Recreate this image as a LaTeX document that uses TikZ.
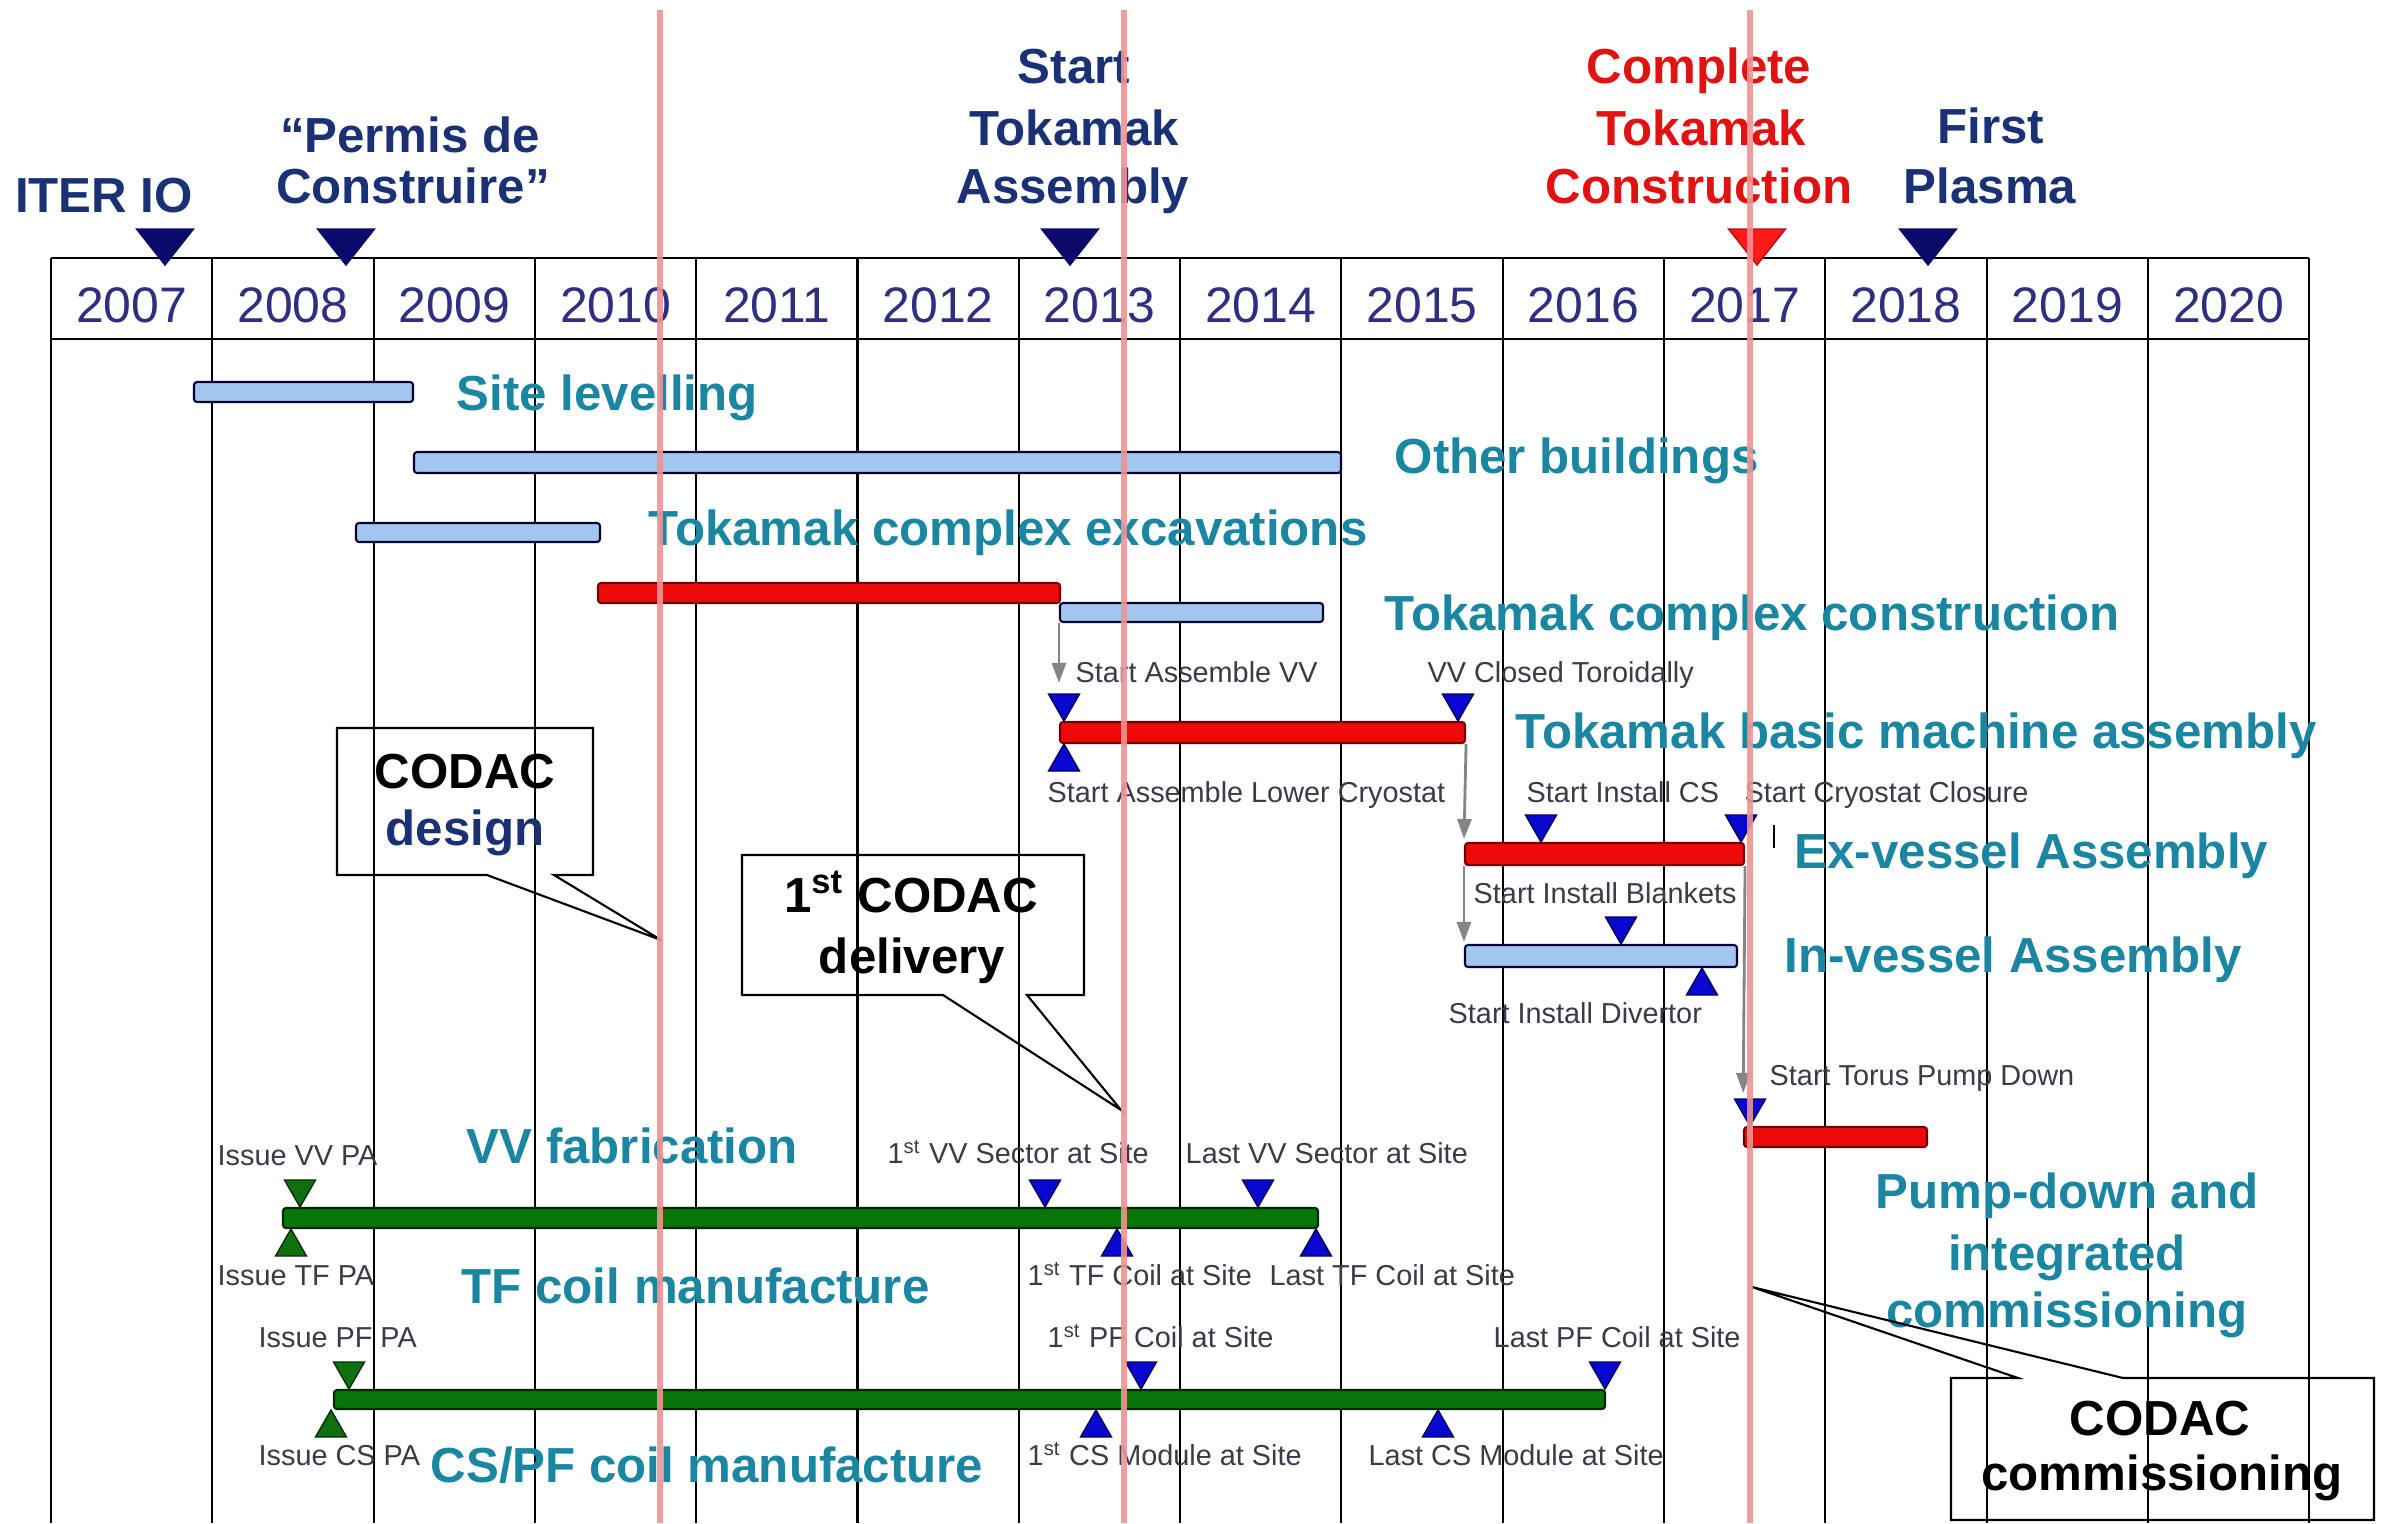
\documentclass[tikz,border=0pt]{standalone}
\usepackage{fontspec}
\setmainfont{Liberation Sans}
\usetikzlibrary{arrows.meta,fit}

\definecolor{hdrnavy}{HTML}{1A3275}
\definecolor{yearblue}{HTML}{302E80}
\definecolor{phaseteal}{HTML}{1A86A2}
\definecolor{hdrred}{HTML}{E01212}
\definecolor{notegray}{HTML}{3A3A48}
\definecolor{barblue}{HTML}{A3C6EE}
\definecolor{barred}{HTML}{EE0A0A}
\definecolor{bargreen}{HTML}{087508}
\definecolor{msblue}{HTML}{0808D0}
\definecolor{msgreen}{HTML}{107010}
\definecolor{msnavy}{HTML}{0A0A6A}
\definecolor{msred}{HTML}{FF1A1A}
\definecolor{linkgray}{HTML}{858585}
\definecolor{todayline}{HTML}{EE9494}

\tikzset{
  gridline/.style={draw=black, line width=0.6pt},
  hdr/.style={anchor=base, inner sep=0pt, font=\fontsize{14}{17}\selectfont\bfseries, text=hdrnavy},
  hdrr/.style={hdr, text=hdrred},
  yr/.style={anchor=base, inner sep=0pt, font=\fontsize{14.2}{17}\selectfont, text=yearblue},
  phase/.style={anchor=base west, inner sep=0pt, font=\fontsize{14}{17}\selectfont\bfseries, text=phaseteal},
  phasec/.style={phase, anchor=base},
  note/.style={anchor=base west, inner sep=0pt, font=\fontsize{8.2}{10}\selectfont, text=notegray},
  boxtext/.style={anchor=base, inner sep=0pt, font=\fontsize{14}{17}\selectfont\bfseries, text=black},
  barbase/.style={inner sep=0pt, rounded corners=0.03cm, line width=0.6pt},
  bluebar/.style={barbase, draw=black!80!blue, fill=barblue},
  redbar/.style={barbase, draw=red!45!black, fill=barred},
  greenbar/.style={barbase, draw=black!85!green, fill=bargreen},
  bluems/.style={fill=msblue, draw=msblue!40!black, line width=0.4pt},
  greenms/.style={fill=msgreen, draw=msgreen!40!black, line width=0.4pt},
  keynavy/.style={fill=msnavy, draw=msnavy, line width=0.4pt},
  keyred/.style={fill=msred, draw=msred!70!black, line width=0.4pt},
  link/.style={draw=linkgray, line width=0.8pt, -{Triangle[width=0.14cm,length=0.2cm]}},
  callout/.style={draw=black, line width=0.6pt},
  today/.style={draw=todayline, line width=1.7pt, opacity=0.9},
}

% milestone markers: style, x, tip y
\newcommand\msdown[3]{\filldraw[#1] ({#2-15.5},{#3-27}) -- ({#2+15.5},{#3-27}) -- (#2,#3) -- cycle;}
\newcommand\msup[3]{\filldraw[#1] ({#2-15.5},{#3+27}) -- ({#2+15.5},{#3+27}) -- (#2,#3) -- cycle;}
% key dates above the year row: style, x
\newcommand\keydate[2]{\filldraw[#1] ({#2-28.5},229) -- ({#2+28.5},229) -- (#2,265) -- cycle;}

\begin{document}
\begin{tikzpicture}[x=0.01cm, y=-0.01cm]
\useasboundingbox (0,0) rectangle (2381,1523);
\fill[white] (0,0) rectangle (2381,1523);

% ---- year table ----
\draw[gridline] (51,258) -- (2309.2,258);
\draw[gridline] (51,339) -- (2309.2,339);
\foreach \i in {0,...,14} \draw[gridline] ({51+161.3*\i},258) -- ({51+161.3*\i},1523);
\foreach \i in {0,...,13} {
  \pgfmathtruncatemacro\yr{2007+\i}
  \node[yr] (y\yr) at ({51+161.3*(\i+0.5)},322) {\yr};
}

% ---- key dates ----
\keydate{keynavy}{165}
\keydate{keynavy}{346}
\keydate{keynavy}{1070}
\keydate{keyred}{1757}
\keydate{keynavy}{1928}

\node[hdr] (iter) at (104,212) {ITER IO};
\node[hdr] (permA) at (410,152) {“Permis de};
\node[hdr] (permB) at (413,203) {Construire”};
\node[hdr] (staA) at (1074,83) {Start};
\node[hdr] (staB) at (1074,145) {Tokamak};
\node[hdr] (staC) at (1073,203) {Assembly};
\node[hdrr] (comA) at (1699,83) {Complete};
\node[hdrr] (comB) at (1701,145) {Tokamak};
\node[hdrr] (comC) at (1699,203) {Construction};
\node[hdr] (fpA) at (1991,143) {First};
\node[hdr] (fpB) at (1990,203) {Plasma};

% ---- site and buildings ----
\node[bluebar, fit={(194,382) (413,402)}] (site) {};
\node[phase] (siteL) at (456,410) {Site levelling};
\node[bluebar, fit={(414,452) (1341,473)}] (bldg) {};
\node[phase] (bldgL) at (1394,473) {Other buildings};
\node[bluebar, fit={(356,523) (600,542)}] (excav) {};
\node[phase] (excavL) at (648,545) {Tokamak complex excavations};
\node[redbar, fit={(598,583) (1060,603)}] (cplxA) {};
\node[bluebar, fit={(1060,603) (1323,622)}] (cplx) {};
\node[phase] (cplxL) at (1384,630) {Tokamak complex construction};

% ---- tokamak assembly ----
\node[redbar, fit={(1060,722) (1465,743)}] (basic) {};
\node[phase] (basicL) at (1515,748) {Tokamak basic machine assembly};
\msdown{bluems}{1064}{721}
\msdown{bluems}{1458}{721}
\msup{bluems}{1064}{744}
\node[note] (nSAVV) at (1075,682) {Start Assemble VV};
\node[note] (nVVC) at (1427,682) {VV Closed Toroidally};
\node[note] (nSALC) at (1047,802) {Start Assemble Lower Cryostat};

\node[redbar, fit={(1465,843) (1744,865)}] (exv) {};
\node[phase] (exvL) at (1794,868) {Ex-vessel Assembly};
\msdown{bluems}{1541}{842}
\msdown{bluems}{1741}{842}
\node[note] (nSICS) at (1526,802) {Start Install CS};
\node[note] (nSCC) at (1744,802) {Start Cryostat Closure};
\draw[black, line width=0.4pt] (1774,825) -- (1774,848);

\node[bluebar, fit={(1465,945) (1737,967)}] (inv) {};
\node[phase] (invL) at (1784,972) {In-vessel Assembly};
\msdown{bluems}{1621}{944}
\msup{bluems}{1702}{968}
\node[note] (nSIB) at (1473,903) {Start Install Blankets};
\node[note] (nSID) at (1448,1023) {Start Install Divertor};

\node[redbar, fit={(1744,1127) (1927,1147)}] (pump) {};
\msdown{bluems}{1750}{1126}
\node[note] (nSTPD) at (1769,1085) {Start Torus Pump Down};
\node[phasec] (pumpA) at (2067,1208) {Pump-down and};
\node[phasec] (pumpB) at (2067,1270) {integrated};
\node[phasec] (pumpC) at (2067,1327) {commissioning};

% ---- links between activities ----
\draw[link, shorten >=0.38cm] (cplx.south west) -- (basic.north west);
\draw[link, shorten >=0.03cm] (basic.south east) -- (exv.north west);
\draw[link, shorten >=0.02cm] (exv.south west) -- (inv.north west);
\draw[link, shorten >=0.33cm] (exv.south east) -- (pump.north west);

% ---- vacuum vessel and TF coils ----
\node[greenbar, fit={(283,1208) (1318,1228)}] (vv) {};
\node[phase] (vvL) at (466,1163) {VV fabrication};
\node[phase] (tfL) at (461,1303) {TF coil manufacture};
\msdown{greenms}{300}{1207}
\msup{greenms}{291}{1229}
\msdown{bluems}{1045}{1207}
\msdown{bluems}{1258}{1207}
\msup{bluems}{1117}{1229}
\msup{bluems}{1316}{1229}
\node[note] (nIVV) at (217,1165) {Issue VV PA};
\node[note] (nITF) at (217,1285) {Issue TF PA};
\node[note] (nVV1) at (887,1163) {1\textsuperscript{st} VV Sector at Site};
\node[note] (nVVL) at (1185,1163) {Last VV Sector at Site};
\node[note] (nTF1) at (1027,1285) {1\textsuperscript{st} TF Coil at Site};
\node[note] (nTFL) at (1269,1285) {Last TF Coil at Site};

% ---- CS / PF coils ----
\node[greenbar, fit={(334,1390) (1605,1409)}] (pf) {};
\node[phase] (pfL) at (430,1482) {CS/PF coil manufacture};
\msdown{greenms}{349}{1389}
\msup{greenms}{331}{1410}
\msdown{bluems}{1141}{1389}
\msdown{bluems}{1605}{1389}
\msup{bluems}{1096}{1410}
\msup{bluems}{1438}{1410}
\node[note] (nIPF) at (258,1347) {Issue PF PA};
\node[note] (nICS) at (258,1465) {Issue CS PA};
\node[note] (nPF1) at (1047,1347) {1\textsuperscript{st} PF Coil at Site};
\node[note] (nPFL) at (1493,1347) {Last PF Coil at Site};
\node[note] (nCS1) at (1027,1465) {1\textsuperscript{st} CS Module at Site};
\node[note] (nCSL) at (1368,1465) {Last CS Module at Site};

% ---- CODAC callouts ----
\draw[callout] (337,728) -- (593,728) -- (593,875) -- (554,875) -- (661,940)
  -- (487,875) -- (337,875) -- cycle;
\node[boxtext] (cdA) at (465,788) {CODAC};
\node[boxtext, text=hdrnavy] (cdB) at (465,845) {design};

\draw[callout] (742,855) -- (1084,855) -- (1084,995) -- (1027,995) -- (1121,1110)
  -- (943,995) -- (742,995) -- cycle;
\node[boxtext] (cvA) at (911,912) {1\textsuperscript{st} CODAC};
\node[boxtext] (cvB) at (912,973) {delivery};

\draw[callout] (1951,1378) -- (2018,1378) -- (1752,1287) -- (2123,1378)
  -- (2374,1378) -- (2374,1520) -- (1951,1520) -- cycle;
\node[boxtext] (ccA) at (2160,1435) {CODAC};
\node[boxtext] (ccB) at (2162,1490) {commissioning};

% ---- CODAC reference dates ----
\draw[today] (660,10) -- (660,1523);
\draw[today] (1124,10) -- (1124,1523);
\draw[today] (1750,10) -- (1750,1523);
\end{tikzpicture}
\end{document}
